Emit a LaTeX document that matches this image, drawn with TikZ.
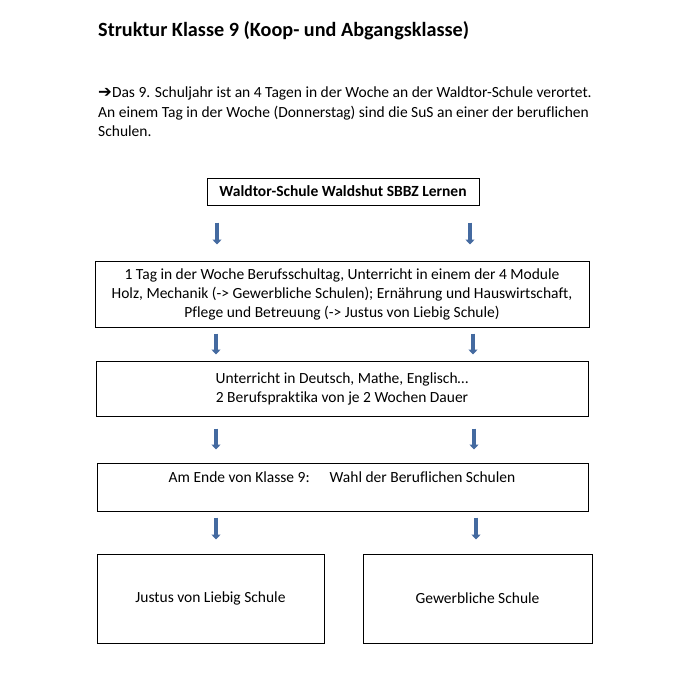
\documentclass[tikz,border=0pt]{standalone}
\usepackage{fontspec}
\setmainfont{Carlito}[Ligatures=NoCommon]
\newfontfamily\symfont{DejaVu Sans}
\usetikzlibrary{arrows.meta}
\definecolor{arrblue}{RGB}{68,106,160}
\begin{document}
\begin{tikzpicture}[x=1pt,y=-1pt,
  box/.style={draw=black, line width=1pt, inner sep=0pt, align=center, font=\fontsize{15.5}{19}\selectfont},
  body/.style={inner sep=0pt, font=\fontsize{15.5}{19}\selectfont},
  titletext/.style={inner sep=0pt, font=\fontsize{20.2}{24}\selectfont\bfseries},
  arr/.style={draw=arrblue, line width=3.2pt, -{Triangle[width=9pt,length=5pt]}}
]
\useasboundingbox[fill=white] (0,0) rectangle (696,680);
\node[titletext, anchor=base west] (title) at (98,36) {Struktur Klasse 9 (Koop- und Abgangsklasse)};
\node[body, anchor=base west] (p1) at (98,97) {{\symfont\bfseries\fontsize{16.5}{19}\selectfont\char"2794}Das 9. Schuljahr ist an 4 Tagen in der Woche an der Waldtor-Schule verortet.};
\node[body, anchor=base west] (p2) at (98,117) {An einem Tag in der Woche (Donnerstag) sind die SuS an einer der beruflichen};
\node[body, anchor=base west] (p3) at (98,136) {Schulen.};

\node[box, minimum width=272, minimum height=27, font=\fontsize{15.5}{19}\selectfont\bfseries] (b1) at (343,191.5) {Waldtor-Schule Waldshut SBBZ Lernen};
\node[box, minimum width=494, minimum height=66] (b2) at (342,294) {1 Tag in der Woche Berufsschultag, Unterricht in einem der 4 Module\\Holz, Mechanik (-> Gewerbliche Schulen); Ernährung und Hauswirtschaft,\\Pflege und Betreuung (-> Justus von Liebig Schule)};
\node[box, minimum width=492, minimum height=55] (b3) at (342,388.5) {Unterricht in Deutsch, Mathe, Englisch…\\2 Berufspraktika von je 2 Wochen Dauer};
\node[box, minimum width=491, minimum height=48] (b4) at (342.5,487) {};
\node[body] (b4t) at (342,477) {Am Ende von Klasse 9:\hspace{20pt}Wahl der Beruflichen Schulen};
\node[box, minimum width=227, minimum height=89] (b5) at (210.5,598.5) {Justus von Liebig Schule};
\node[box, minimum width=229, minimum height=89] (b6) at (477.5,598.5) {Gewerbliche Schule};

\coordinate (l1) at (217,0);  \coordinate (r1) at (470,0);
\coordinate (l2) at (216,0);  \coordinate (r2) at (473,0);
\coordinate (l3) at (216,0);  \coordinate (r3) at (474,0);
\coordinate (l4) at (216,0);  \coordinate (r4) at (476,0);

\draw[arr, shorten <=17pt, shorten >=16pt] (b1.south -| l1) -- (b2.north -| l1);
\draw[arr, shorten <=17pt, shorten >=16pt] (b1.south -| r1) -- (b2.north -| r1);
\draw[arr, shorten <=6pt, shorten >=6pt] (b2.south -| l2) -- (b3.north -| l2);
\draw[arr, shorten <=6pt, shorten >=6pt] (b2.south -| r2) -- (b3.north -| r2);
\draw[arr, shorten <=12pt, shorten >=13pt] (b3.south -| l3) -- (b4.north -| l3);
\draw[arr, shorten <=12pt, shorten >=13pt] (b3.south -| r3) -- (b4.north -| r3);
\draw[arr, shorten <=6pt, shorten >=14pt] (b4.south -| l4) -- (b5.north -| l4);
\draw[arr, shorten <=6pt, shorten >=14pt] (b4.south -| r4) -- (b6.north -| r4);
\end{tikzpicture}
\end{document}
